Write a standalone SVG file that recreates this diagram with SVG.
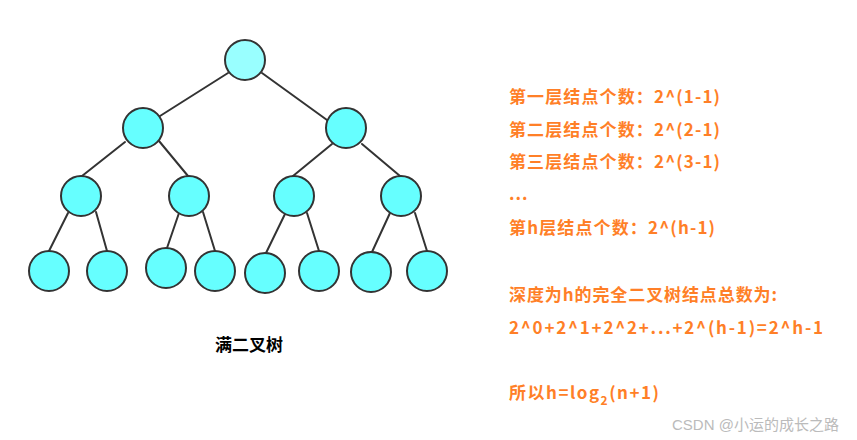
<svg xmlns="http://www.w3.org/2000/svg" width="857" height="440" viewBox="0 0 857 440">
<style>
.n{fill:#66FFFF;stroke:#333333;stroke-width:2}
.r{fill:#99FFFF;stroke:#333333;stroke-width:2}
.e line{stroke:#333333;stroke-width:2;stroke-linecap:round}
.t{font-family:"Noto Sans CJK SC","Microsoft YaHei",sans-serif;font-weight:bold;font-size:17px;fill:#FF7F27}
.cap{font-family:"Noto Sans CJK SC",sans-serif;font-weight:bold;font-size:17px;fill:#000}
.wm{font-family:"Liberation Sans","Noto Sans CJK SC",sans-serif;font-size:15px;fill:#BBBBBB}
</style>
<rect width="857" height="440" fill="#FFFFFF"/>
<g id="connectors" class="e">
<line x1="228" y1="73" x2="160" y2="116"/>
<line x1="262" y1="73" x2="327" y2="120"/>
<line x1="125" y1="142" x2="82" y2="176"/>
<line x1="159" y1="141" x2="188" y2="176"/>
<line x1="332" y1="144" x2="293" y2="176"/>
<line x1="362" y1="144" x2="400" y2="176"/>
<line x1="68" y1="213" x2="49" y2="251"/>
<line x1="96" y1="212" x2="107" y2="251"/>
<line x1="179" y1="213" x2="167" y2="248"/>
<line x1="203" y1="212" x2="215" y2="251"/>
<line x1="285" y1="214" x2="266" y2="253"/>
<line x1="307" y1="213" x2="319" y2="251"/>
<line x1="390" y1="213" x2="372" y2="252"/>
<line x1="415" y1="213" x2="427" y2="251"/>
</g>
<g id="n1"><circle class="r" cx="245" cy="60" r="20"/></g>
<g id="n2"><circle class="n" cx="143" cy="128" r="20"/></g>
<g id="n3"><circle class="n" cx="346" cy="128" r="20"/></g>
<g id="n4"><circle class="n" cx="81" cy="196" r="20"/></g>
<g id="n5"><circle class="n" cx="189" cy="196" r="20"/></g>
<g id="n6"><circle class="n" cx="294" cy="196" r="20"/></g>
<g id="n7"><circle class="n" cx="401" cy="196" r="20"/></g>
<g id="n8"><circle class="n" cx="49" cy="271" r="20"/></g>
<g id="n9"><circle class="n" cx="107" cy="271" r="20"/></g>
<g id="n10"><circle class="n" cx="166" cy="268" r="20"/></g>
<g id="n11"><circle class="n" cx="215" cy="271" r="20"/></g>
<g id="n12"><circle class="n" cx="265" cy="273" r="20"/></g>
<g id="n13"><circle class="n" cx="319" cy="271" r="20"/></g>
<g id="n14"><circle class="n" cx="371" cy="272" r="20"/></g>
<g id="n15"><circle class="n" cx="427" cy="271" r="20"/></g>
<text class="cap" x="215" y="351">满二叉树</text>
<g id="text">
<text class="t" x="509" y="103" textLength="211" lengthAdjust="spacing">第一层结点个数：2^(1-1)</text>
<text class="t" x="509" y="136" textLength="211" lengthAdjust="spacing">第二层结点个数：2^(2-1)</text>
<text class="t" x="509" y="168" textLength="211" lengthAdjust="spacing">第三层结点个数：2^(3-1)</text>
<text class="t" x="509" y="200" letter-spacing="1">...</text>
<text class="t" x="509" y="234" textLength="206" lengthAdjust="spacing">第h层结点个数：2^(h-1)</text>
<text class="t" x="509" y="301" textLength="268" lengthAdjust="spacing">深度为h的完全二叉树结点总数为:</text>
<text class="t" x="509" y="334" textLength="314" lengthAdjust="spacing">2^0+2^1+2^2+...+2^(h-1)=2^h-1</text>
<text class="t" x="509" y="399" letter-spacing="1.5">所以h=log<tspan font-size="12" dy="6">2</tspan><tspan dy="-6">(n+1)</tspan></text>
</g>
<text class="wm" x="672" y="430">CSDN @小运的成长之路</text>
</svg>
